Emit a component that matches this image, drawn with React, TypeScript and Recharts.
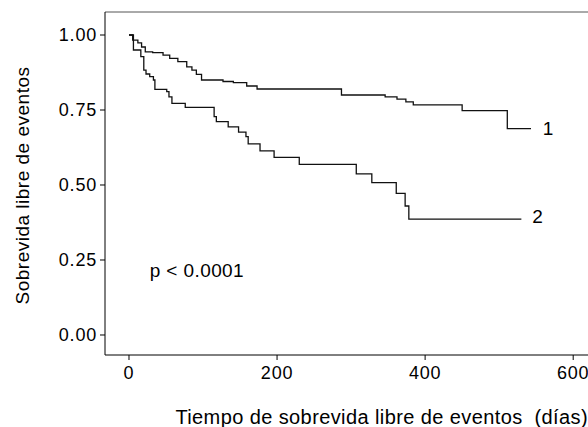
import React from "react";
import { LineChart, Line, XAxis, YAxis, ReferenceLine, ReferenceDot, Label } from "recharts";

// Grupo 1 (curva superior) - tiempos en días y sobrevida
const group1Days = [0, 5, 12, 17, 22, 32, 46, 55, 66, 78, 85, 91, 98, 127, 141, 159, 173, 287, 346, 362, 374, 384, 450, 511, 543];
const group1Surv = [1.0, 0.983, 0.974, 0.96, 0.944, 0.941, 0.933, 0.922, 0.911, 0.894, 0.883, 0.869, 0.85, 0.845, 0.841, 0.83, 0.82, 0.8, 0.794, 0.786, 0.777, 0.767, 0.748, 0.688, 0.688];

// Grupo 2 (curva inferior)
const group2Days = [0, 6, 16, 20, 23, 28, 33, 35, 51, 54, 58, 76, 115, 118, 134, 148, 158, 161, 177, 196, 230, 307, 328, 361, 373, 378, 530];
const group2Surv = [1.0, 0.95, 0.928, 0.883, 0.87, 0.861, 0.85, 0.819, 0.811, 0.794, 0.772, 0.759, 0.728, 0.711, 0.694, 0.676, 0.661, 0.637, 0.614, 0.592, 0.569, 0.537, 0.508, 0.472, 0.43, 0.386, 0.386];

const xTicks = [0, 200, 400, 600];
const yTicks = [0, 0.25, 0.5, 0.75, 1];

const toPoints = (days: number[], surv: number[]) =>
  days.map((t, i) => ({ t, s: surv[i] }));

const group1 = toPoints(group1Days, group1Surv);
const group2 = toPoints(group2Days, group2Surv);

const X_DOMAIN: [number, number] = [-32.4, 620];
const Y_DOMAIN: [number, number] = [-0.0667, 1.0767];

const tickStyle = { fontSize: 18, fill: "#000", letterSpacing: 0.8 };

export default function App() {
  return (
    <div style={{ position: "absolute", left: 0, top: 0, fontFamily: "'Liberation Sans', Arial, sans-serif" }}>
      <LineChart width={588} height={427} margin={{ top: 12, right: 0, bottom: 0, left: 0 }}>
        <XAxis
          type="number"
          dataKey="t"
          domain={X_DOMAIN}
          ticks={xTicks}
          allowDataOverflow
          height={72}
          tickSize={5}
          tickMargin={6}
          tick={tickStyle}
          stroke="#000"
        >
          <Label
            content={({ viewBox }: any) => (
              <text
                x={viewBox.x + viewBox.width}
                y={424}
                textAnchor="end"
                fontSize={20}
                letterSpacing={0.4}
                fill="#000"
                style={{ whiteSpace: "pre" }}
              >
                Tiempo de sobrevida libre de eventos  (días)
              </text>
            )}
          />
        </XAxis>
        <YAxis
          type="number"
          domain={Y_DOMAIN}
          ticks={yTicks}
          allowDataOverflow
          width={105}
          tickSize={5}
          tickMargin={3}
          tick={tickStyle}
          tickFormatter={(v: number) => v.toFixed(2)}
          stroke="#000"
        >
          <Label
            value="Sobrevida libre de eventos"
            angle={-90}
            position="insideLeft"
            offset={22}
            dy={2}
            style={{ textAnchor: "middle", fontSize: 19, letterSpacing: 0.5, fill: "#000" }}
          />
        </YAxis>
        <ReferenceLine y={Y_DOMAIN[1]} stroke="#555" strokeWidth={1} />
        <Line
          data={group1}
          dataKey="s"
          type="stepAfter"
          stroke="#111"
          strokeWidth={1.3}
          dot={false}
          isAnimationActive={false}
        />
        <Line
          data={group2}
          dataKey="s"
          type="stepAfter"
          stroke="#111"
          strokeWidth={1.3}
          dot={false}
          isAnimationActive={false}
        />
        <ReferenceDot x={566} y={0.69} r={0} stroke="none" fill="none"
          label={{ value: "1", position: "center", fontSize: 19, fill: "#000" }} />
        <ReferenceDot x={552} y={0.397} r={0} stroke="none" fill="none"
          label={{ value: "2", position: "center", fontSize: 19, fill: "#000" }} />
        <ReferenceDot x={28} y={0.217} r={0} stroke="none" fill="none"
          label={{ value: "p < 0.0001", position: "right", offset: 0, fontSize: 19, letterSpacing: 0.4, fill: "#000" }} />
      </LineChart>
    </div>
  );
}
